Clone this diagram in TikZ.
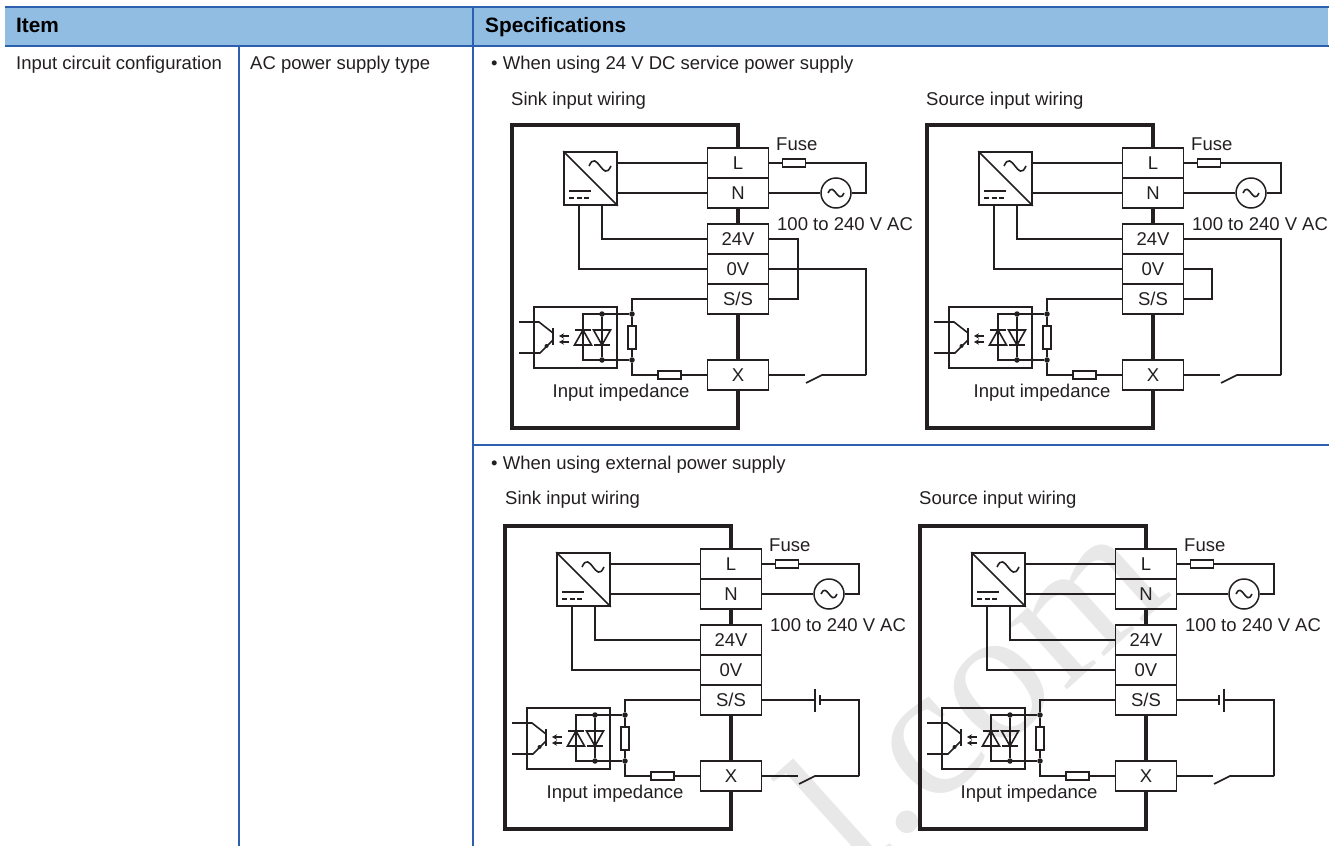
\documentclass[tikz,border=0pt]{standalone}
\usepackage{fontspec}
\setmainfont{Liberation Sans}
\newfontfamily\markfont{Liberation Serif}
\usetikzlibrary{positioning,arrows.meta}
\definecolor{headblue}{HTML}{92BDE3}
\definecolor{lineblue}{HTML}{2D5FAF}
\definecolor{inkblack}{HTML}{231F20}
\tikzset{x=1pt, y=-1pt,
every node/.style={font=\fontsize{18.5}{20}\selectfont, text=inkblack, inner sep=0pt}, % all texts have the same size
tablerule/.style={lineblue, line width=2pt},
cellhead/.style={anchor=base west, font=\fontsize{20.8}{22}\selectfont\bfseries, text=black},
celltext/.style={anchor=base west},
wire/.style={inkblack, line width=1.6pt},
casewall/.style={inkblack, line width=3.8pt, line cap=rect},
termbox/.style={draw=inkblack, line width=1.6pt, minimum width=61pt, minimum height=30pt, node distance=30pt},
fusebox/.style={draw=inkblack, line width=1.6pt, minimum width=23pt, minimum height=8pt},
resbox/.style={draw=inkblack, line width=1.6pt, minimum width=8pt, minimum height=23pt},
convbox/.style={draw=inkblack, line width=1.6pt, minimum width=53pt, minimum height=53pt},
optobox/.style={draw=inkblack, line width=1.5pt, minimum width=83pt, minimum height=61pt},
acsource/.style={circle, draw=inkblack, line width=1.5pt, minimum size=30pt},
wiredot/.style={circle, fill=inkblack, minimum size=5.5pt},
acwave/.pic={\draw[wire] (-11,0) .. controls (-3,-18) and (3,18) .. (11,0);},
}
% one power unit: name, x shift, y shift, x of the impedance text
\newcommand{\inputunit}[4]{
\begin{scope}[shift={(#2,#3)}]
\node[termbox] (#1L) at (738,163) {L};
\node[termbox, below of=#1L] (#1N) {N};
\node[termbox, below of=#1N, node distance=46pt] (#1V24) {24V};
\node[termbox, below of=#1V24] (#1V0) {0V};
\node[termbox, below of=#1V0] (#1SS) {S/S};
\node[termbox, below of=#1SS, node distance=76pt] (#1X) {X};
\coordinate (#1caseA) at (512,125);
\coordinate (#1caseB) at (738,428);
\draw[casewall] (#1L.north) |- (#1caseA) |- (#1caseB) -- (#1X.south);
\draw[casewall] (#1N.south) -- (#1V24.north);
\draw[casewall] (#1SS.south) -- (#1X.north);
% converter
\node[convbox] (#1conv) at (590.5,178.5) {};
\draw[wire] (#1conv.north west) -- (#1conv.south east);
\pic at (600,166) {acwave};
\draw[wire] (569,191) -- (591,191);
\draw[wire, dash pattern=on 5pt off 2.5pt] (569,198) -- (591,198);
\coordinate (#1dcA) at (579,205);
\coordinate (#1dcB) at (602,205);
\draw[wire] (#1L.west) -- (#1L.west -| #1conv.east);
\draw[wire] (#1N.west) -- (#1N.west -| #1conv.east);
\draw[wire] (#1V24.west) -| (#1dcB);
\draw[wire] (#1V0.west) -| (#1dcA);
% outside supply
\node[fusebox] (#1fuse) at (794,163) {};
\node[acsource] (#1ac) at (836,193) {};
\pic[scale=.72] at (836,193) {acwave};
\coordinate (#1railN) at (866,193);
\node[celltext] (#1fusetext) at (776,150) {Fuse};
\node[celltext] (#1volt) at (777,230) {100 to 240 V AC};
\draw[wire] (#1L.east) -- (#1fuse.west);
\draw[wire] (#1fuse.east) -| (#1railN) -- (#1ac.east);
\draw[wire] (#1N.east) -- (#1ac.west);
% input impedance
\node[optobox] (#1opto) at (575.5,337.5) {};
\node[wiredot] (#1dotA) at (632,314) {};
\node[wiredot] (#1dotB) at (632,360) {};
\node[wiredot] (#1dotC) at (602,314) {};
\node[wiredot] (#1dotD) at (602,360) {};
\node[resbox] (#1res) at (632,337.5) {};
\node[fusebox] (#1fuseX) at (669.5,375) {};
\draw[wire] (#1SS.west) -| (#1dotA) -- (#1res.north);
\draw[wire] (#1res.south) -- (#1dotB) |- (#1fuseX.west);
\draw[wire] (#1fuseX.east) -- (#1X.west);
\draw[wire] (#1dotA) -- (583,314) -- (583,360) -- (#1dotB);
\draw[wire] (#1dotC) -- (#1dotD);
\draw[wire] (574.5,345) -- (591.5,345) -- (583,330) -- cycle;
\draw[wire] (575,330) -- (591,330);
\draw[wire] (593.5,330) -- (610.5,330) -- (602,345) -- cycle;
\draw[wire] (594,345) -- (610,345);
\draw[wire, line width=2pt] (553,328) -- (553,345);
\draw[wire] (519,322) -- (539,322) -- (553,333);
\draw[wire] (519,353) -- (540,353) -- (553,340);
\node[wiredot, minimum size=4pt] (#1emit) at (546.5,346) {};
\draw[wire, line width=1.4pt, -{Stealth[length=5pt,width=5.5pt]}] (569,336) -- (559,336);
\draw[wire, line width=1.4pt, -{Stealth[length=5pt,width=5.5pt]}] (569,342) -- (559,342);
\node[anchor=base] (#1imp) at (#4,397) {Input impedance};
% switch
\coordinate (#1swA) at (805,375);
\coordinate (#1swB) at (806,383);
\coordinate (#1swC) at (822,375);
\coordinate (#1railX) at (866,375);
\draw[wire] (#1X.east) -- (#1swA);
\draw[wire] (#1swB) -- (#1swC) -- (#1railX);
\end{scope}
}

\begin{document}
\begin{tikzpicture}
\useasboundingbox (0,0) rectangle (1334,846);
% watermark
\begin{scope}
\clip (0,0) rectangle (1334,846);
\node[rotate=42, text=black!9, font=\fontsize{190}{190}\selectfont\markfont] (stamp) at (972,689) {l.com};
\end{scope}
% table
\fill[headblue] (5,7) rectangle (1328,46);
\draw[tablerule] (5,7) -- (1329,7);
\draw[tablerule] (5,46) -- (1329,46);
\draw[tablerule] (473,7) -- (473,846);
\draw[tablerule] (239,46) -- (239,846);
\draw[tablerule] (473,445) -- (1329,445);
\node[cellhead] (item) at (16,32) {Item};
\node[cellhead] (spec) at (485,32) {Specifications};
\node[celltext] (config) at (16,69) {Input circuit configuration};
\node[celltext] (actype) at (250,69) {AC power supply type};
\node[celltext] (usedc) at (491,69) {• When using 24 V DC service power supply};
\node[celltext] (sinkA) at (511,105) {Sink input wiring};
\node[celltext] (sourceA) at (926,105) {Source input wiring};
\node[celltext] (useext) at (491,469) {• When using external power supply};
\node[celltext] (sinkB) at (505,504) {Sink input wiring};
\node[celltext] (sourceB) at (919,504) {Source input wiring};
% the four units
\inputunit{a}{0}{0}{621}
\inputunit{b}{415}{0}{627}
\inputunit{c}{-7}{401}{622}
\inputunit{d}{408}{401}{621}
% service supply wiring
\draw[wire] (aV24.east) -- (aV24.east -| 798,0) |- (aSS.east);
\draw[wire] (aV0.east) -| (arailX);
\draw[wire] (bV24.east) -| (brailX);
\draw[wire] (bV0.east) -- (bV0.east -| 1212,0) |- (bSS.east);
% external supply wiring
\coordinate (cbatA) at (815,700);
\coordinate (cbatB) at (820,700);
\draw[wire] (cSS.east) -- (cbatA);
\draw[wire] (cbatB) -| (crailX);
\draw[wire] (cbatA) ++(0,-11.5) -- ++(0,23);
\draw[wire] (cbatB) ++(0,-5) -- ++(0,10);
\coordinate (dbatA) at (1219,700);
\coordinate (dbatB) at (1224,700);
\draw[wire] (dSS.east) -- (dbatA);
\draw[wire] (dbatB) -| (drailX);
\draw[wire] (dbatA) ++(0,-5) -- ++(0,10);
\draw[wire] (dbatB) ++(0,-11.5) -- ++(0,23);
\end{tikzpicture}
\end{document}
